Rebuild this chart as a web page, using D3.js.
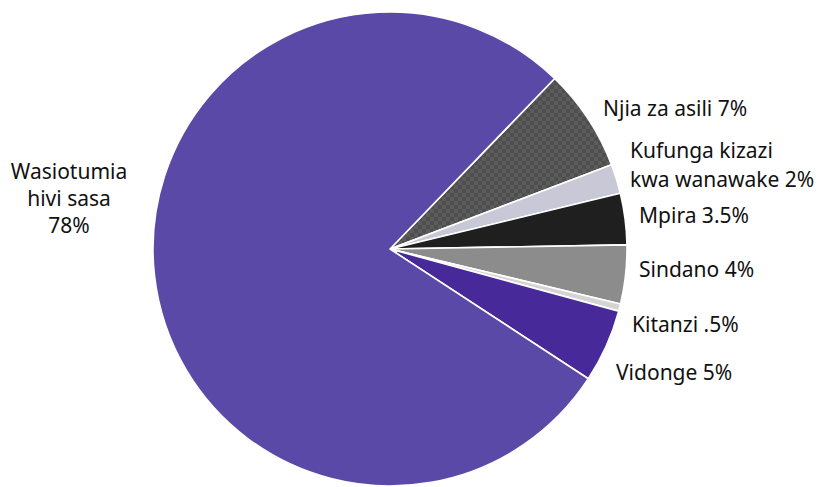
<!DOCTYPE html>
<html>
<head>
<meta charset="utf-8">
<script src="https://cdn.jsdelivr.net/npm/d3@7"></script>
<style>
  html, body { margin: 0; padding: 0; background: #fff; }
  svg text { font-family: "Noto Sans", "Open Sans", sans-serif; fill: #111; }
</style>
</head>
<body>
<svg id="chart" width="819" height="487"></svg>
<script>
// Slices in drawing order, clockwise from the upper right
const categories = ["Njia za asili", "Kufunga kizazi kwa wanawake", "Mpira", "Sindano", "Kitanzi", "Vidonge", "Wasiotumia hivi sasa"];
const values = [7, 2, 3.5, 4, 0.5, 5, 78];
const valueLabels = ["7%", "2%", "3.5%", "4%", ".5%", "5%", "78%"];
const colors = ["url(#checker)", "#c9c8d6", "#1f1f1f", "#8c8c8c", "#d4d4d4", "#48299a", "#5b49a7"];
// label lines for each slice
const labelLines = [
  ["Njia za asili 7%"],
  ["Kufunga kizazi", "kwa wanawake 2%"],
  ["Mpira 3.5%"],
  ["Sindano 4%"],
  ["Kitanzi .5%"],
  ["Vidonge 5%"],
  ["Wasiotumia", "hivi sasa", "78%"]
];

const svg = d3.select("#chart");
const cx = 390, cy = 249, r = 237;

// checkered texture for the traditional-methods slice
const defs = svg.append("defs");
const pat = defs.append("pattern").attr("id", "checker")
  .attr("width", 8).attr("height", 8).attr("patternUnits", "userSpaceOnUse");
pat.append("rect").attr("width", 8).attr("height", 8).attr("fill", "#4e4e4e");
pat.append("rect").attr("width", 4).attr("height", 4).attr("fill", "#5c5c5c");
pat.append("rect").attr("x", 4).attr("y", 4).attr("width", 4).attr("height", 4).attr("fill", "#5c5c5c");

const start = 44 * Math.PI / 180;
const pie = d3.pie().sort(null).value(d => d)
  .startAngle(start).endAngle(start + 2 * Math.PI);
const arcs = pie(values);
const arc = d3.arc().innerRadius(0).outerRadius(r);

const g = svg.append("g").attr("transform", `translate(${cx},${cy})`);
g.selectAll("path.slice").data(arcs).join("path")
  .attr("class", "slice")
  .attr("d", arc)
  .attr("fill", (d, i) => colors[i])
  .attr("stroke", "#ffffff")
  .attr("stroke-width", 1.6)
  .attr("stroke-linejoin", "round");

// label anchor positions (x, first baseline, anchor, line height)
const labelPos = [
  [603, 116, "start", 28],
  [630, 158, "start", 29],
  [639, 223, "start", 28],
  [639, 277, "start", 28],
  [632, 332, "start", 28],
  [616, 380, "start", 28],
  [69, 179, "middle", 27]
];

const lg = svg.append("g");
labelLines.forEach((lines, i) => {
  const [x, y, anchor, lh] = labelPos[i];
  const t = lg.append("text")
    .attr("x", x).attr("y", y)
    .attr("text-anchor", anchor)
    .attr("font-size", 21);
  lines.forEach((ln, j) => {
    t.append("tspan").attr("x", x).attr("dy", j === 0 ? 0 : lh).text(ln);
  });
});
</script>
</body>
</html>
